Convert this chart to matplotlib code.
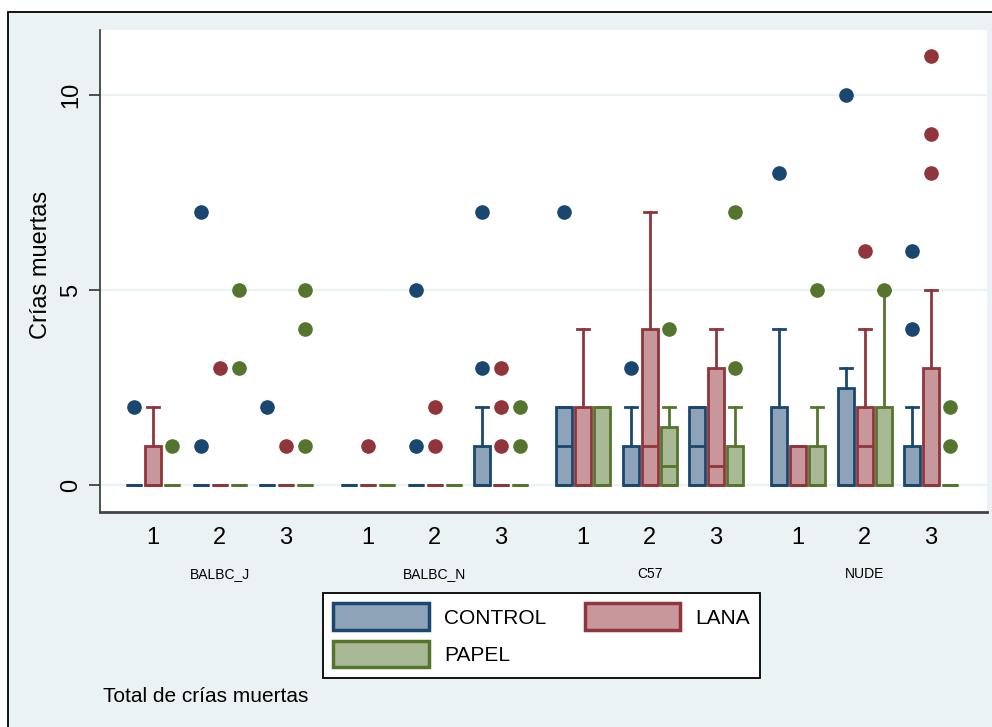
import matplotlib
matplotlib.use("Agg")
import matplotlib.pyplot as plt
from matplotlib.patches import Rectangle, Patch
from matplotlib.transforms import blended_transform_factory

plt.rcParams['font.family'] = ['Liberation Sans', 'DejaVu Sans']

# ---------------- data ----------------
groups = ['BALBC_J', 'BALBC_N', 'C57', 'NUDE']
subgroups = ['1', '2', '3']
series = ['CONTROL', 'LANA', 'PAPEL']

# 12 entries per series: group-major, subgroup-minor
control_q1 = [0, 0, 0, 0, 0, 0, 0, 0, 0, 0, 0, 0]
control_med = [0, 0, 0, 0, 0, 0, 1, 0, 1, 0, 0, 0]
control_q3 = [0, 0, 0, 0, 0, 1, 2, 1, 2, 2, 2.5, 1]
control_whislo = [0, 0, 0, 0, 0, 0, 0, 0, 0, 0, 0, 0]
control_whishi = [0, 0, 0, 0, 0, 2, 2, 2, 2, 4, 3, 2]
control_fliers = [[2], [7, 1], [2], [], [5, 1], [7, 3], [7], [3], [], [8], [10], [6, 4]]

lana_q1 = [0, 0, 0, 0, 0, 0, 0, 0, 0, 0, 0, 0]
lana_med = [0, 0, 0, 0, 0, 0, 0, 1, 0.5, 0, 1, 0]
lana_q3 = [1, 0, 0, 0, 0, 0, 2, 4, 3, 1, 2, 3]
lana_whislo = [0, 0, 0, 0, 0, 0, 0, 0, 0, 0, 0, 0]
lana_whishi = [2, 0, 0, 0, 0, 0, 4, 7, 4, 1, 4, 5]
lana_fliers = [[], [3], [1], [1], [2, 1], [3, 2, 1], [], [], [], [], [6], [11, 9, 8]]

papel_q1 = [0, 0, 0, 0, 0, 0, 0, 0, 0, 0, 0, 0]
papel_med = [0, 0, 0, 0, 0, 0, 0, 0.5, 0, 0, 0, 0]
papel_q3 = [0, 0, 0, 0, 0, 0, 2, 1.5, 1, 1, 2, 0]
papel_whislo = [0, 0, 0, 0, 0, 0, 0, 0, 0, 0, 0, 0]
papel_whishi = [0, 0, 0, 0, 0, 0, 2, 2, 2, 2, 5, 0]
papel_fliers = [[1], [5, 3], [5, 4, 1], [], [], [2, 1], [], [4], [7, 3], [5], [5], [2, 1]]

y_ticks = [0, 5, 10]
y_label = 'Crías muertas'
note = 'Total de crías muertas'

# ---------------- style ----------------
edge_colors = ['#1a476f', '#90353b', '#55752f']
fill_colors = ['#8fa3b8', '#c8979b', '#aab995']
bg = '#eaf2f3'

W, H = 992, 727
fig = plt.figure(figsize=(W / 100, H / 100), dpi=100)
fig.patch.set_facecolor('white')
# outer graph region (cropped frame)
fig.patches.append(Rectangle((8 / W, -0.1), 1.2, 1 - 12 / H + 0.1, transform=fig.transFigure,
                             facecolor=bg, edgecolor='black', linewidth=1.3, zorder=-5))

L, R, T, B = 100, 987, 30, 512
ax = fig.add_axes([L / W, 1 - B / H, (R - L) / W, (B - T) / H])
ax.set_zorder(1)
ax.set_facecolor('white')

# layout (pixel-like x units)
first_center = 153
group_step = 215
sub_step = 66.5
box_off = 19
box_w = 16

centers = [first_center + g * group_step + s * sub_step
           for g in range(len(groups)) for s in range(len(subgroups))]

all_stats = [
    (control_q1, control_med, control_q3, control_whislo, control_whishi, control_fliers),
    (lana_q1, lana_med, lana_q3, lana_whislo, lana_whishi, lana_fliers),
    (papel_q1, papel_med, papel_q3, papel_whislo, papel_whishi, papel_fliers),
]

for k, (q1, med, q3, wlo, whi, fl) in enumerate(all_stats):
    stats = []
    for i in range(len(centers)):
        stats.append(dict(med=med[i], q1=q1[i], q3=q3[i], whislo=wlo[i], whishi=whi[i], fliers=fl[i]))
    pos = [c + (k - 1) * box_off for c in centers]
    ec, fc = edge_colors[k], fill_colors[k]
    ax.bxp(stats, positions=pos, widths=box_w, capwidths=12, patch_artist=True,
           boxprops=dict(facecolor=fc, edgecolor=ec, linewidth=2.0),
           whiskerprops=dict(color=ec, linewidth=2.0),
           capprops=dict(color=ec, linewidth=2.0),
           medianprops=dict(color=ec, linewidth=2.0),
           flierprops=dict(marker='o', markerfacecolor=ec, markeredgecolor=ec, markersize=9.5),
           manage_ticks=False, zorder=3)

ax.set_xlim(L, R)
ax.set_ylim(-(B - 485) / 39, 10 + (95 - T) / 39)

ax.set_yticks(y_ticks)
ax.set_yticklabels([str(v) for v in y_ticks], rotation=90, va='center', fontsize=17)
ax.tick_params(axis='y', length=8, width=1.2, pad=5, color='#333333')
ax.grid(axis='y', color=bg, linewidth=1.6, zorder=0)
ax.set_axisbelow(True)

ax.set_xticks(centers)
ax.set_xticklabels(subgroups * len(groups), fontsize=17)
ax.tick_params(axis='x', length=0, pad=11)

for side in ['top', 'right']:
    ax.spines[side].set_visible(False)
ax.spines['left'].set_color('#333333')
ax.spines['bottom'].set_color('#444444')
ax.spines['left'].set_linewidth(1.2)
ax.spines['bottom'].set_linewidth(2.0)

ax.set_ylabel(y_label, fontsize=17)
ax.yaxis.set_label_coords(-0.054, 0.512)

trans = blended_transform_factory(ax.transData, fig.transFigure)
for g, name in enumerate(groups):
    gc = first_center + g * group_step + sub_step
    ax.text(gc, 1 - 574 / H, name, transform=trans, ha='center', va='center',
            fontsize=10, family=['Liberation Sans Narrow', 'Liberation Sans'])

handles = {series[k]: Patch(facecolor=fill_colors[k], edgecolor=edge_colors[k], linewidth=2.5,
                            label=series[k]) for k in range(3)}
# column-major fill -> order so rows read CONTROL, LANA / PAPEL
order = ['CONTROL', 'PAPEL', 'LANA']
leg = fig.legend(handles=[handles[s] for s in order], ncol=2, loc='upper left',
                 bbox_to_anchor=(323 / W, 1 - 593 / H), borderaxespad=0, fontsize=15,
                 handlelength=4.6, handleheight=1.6, handletextpad=0.7,
                 columnspacing=1.85, labelspacing=0.5, borderpad=0.5,
                 frameon=True, fancybox=False, edgecolor='black', framealpha=1)
leg.get_frame().set_linewidth(1.3)

fig.text(103 / W, 1 - 697 / H, note, fontsize=15, va='center', ha='left')

fig.savefig('out.png', dpi=100)
